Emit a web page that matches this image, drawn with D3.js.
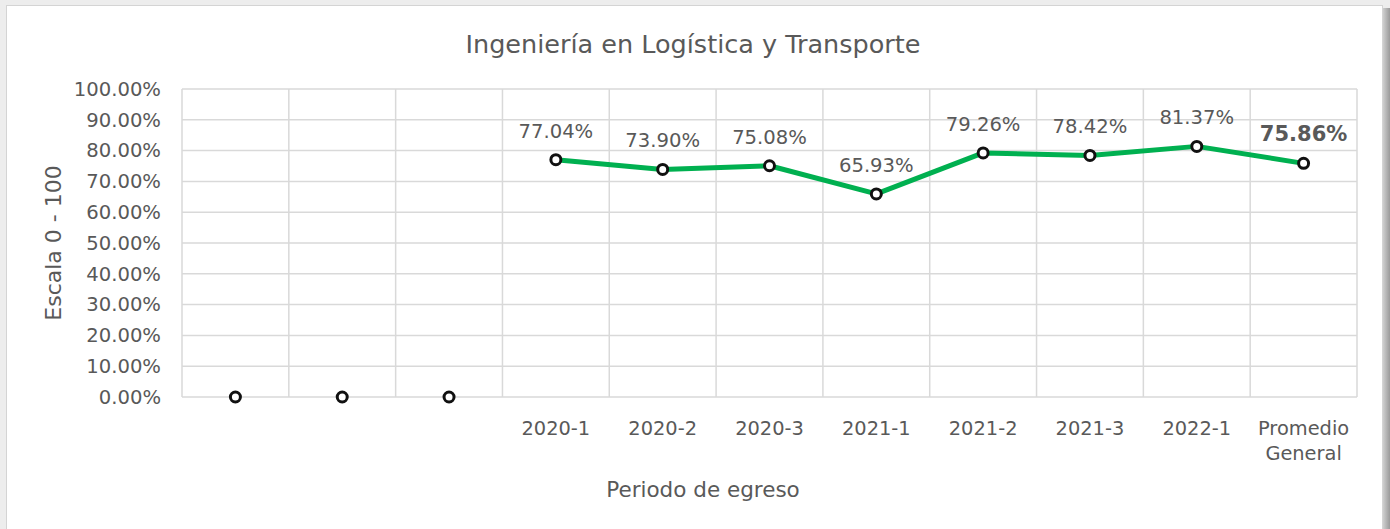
<!DOCTYPE html>
<html>
<head>
<meta charset="utf-8">
<script src="https://cdn.jsdelivr.net/npm/d3@7"></script>
<style>
  html, body { margin: 0; padding: 0; background: #ededed; }
  svg { display: block; }
  text { font-family: "DejaVu Sans", Verdana, sans-serif; fill: #595959; }
</style>
</head>
<body>
<div id="chart-container"></div>
<script>
// data
const categories = ['', '', '', '2020-1', '2020-2', '2020-3', '2021-1', '2021-2', '2021-3', '2022-1', 'Promedio General'];
const values = [0, 0, 0, 77.04, 73.90, 75.08, 65.93, 79.26, 78.42, 81.37, 75.86];
const hasLabel = [false, false, false, true, true, true, true, true, true, true, true];
const yTicks = [0, 10, 20, 30, 40, 50, 60, 70, 80, 90, 100];

const width = 1390;
const height = 529;
const margin = { top: 89, right: 33, bottom: 132, left: 182 };
const contentWidth = width - margin.left - margin.right;
const contentHeight = height - margin.top - margin.bottom;

const svg = d3.select('#chart-container')
  .append('svg')
  .attr('width', width)
  .attr('height', height);

// frame + shadow
const defs = svg.append('defs');
const grad = defs.append('linearGradient').attr('id', 'shadow').attr('x1', 0).attr('x2', 1);
grad.append('stop').attr('offset', '0%').attr('stop-color', '#cfcfcf');
grad.append('stop').attr('offset', '100%').attr('stop-color', '#9a9a9a');
svg.append('rect').attr('x', 1383).attr('y', 8).attr('width', 7).attr('height', height - 8).attr('fill', 'url(#shadow)');
svg.append('rect')
  .attr('x', 6.5).attr('y', 5.5)
  .attr('width', 1376).attr('height', height)
  .attr('fill', 'white')
  .attr('stroke', '#d4d4d4');

const g = svg.append('g')
  .attr('transform', `translate(${margin.left}, ${margin.top})`);

const xBand = d3.scaleBand().domain(d3.range(categories.length)).range([0, contentWidth]);
const yScale = d3.scaleLinear([0, 100], [contentHeight, 0]);

// horizontal gridlines
g.selectAll('.hgrid')
  .data(yTicks)
  .enter().append('line')
  .attr('class', 'hgrid')
  .attr('x1', 0).attr('x2', contentWidth)
  .attr('y1', d => yScale(d)).attr('y2', d => yScale(d))
  .attr('stroke', '#d9d9d9').attr('stroke-width', 1.5);

// vertical gridlines at category boundaries
g.selectAll('.vgrid')
  .data(d3.range(categories.length + 1))
  .enter().append('line')
  .attr('class', 'vgrid')
  .attr('x1', i => i === categories.length ? contentWidth : xBand(i))
  .attr('x2', i => i === categories.length ? contentWidth : xBand(i))
  .attr('y1', 0).attr('y2', contentHeight)
  .attr('stroke', '#d9d9d9').attr('stroke-width', 1.5);

// y axis
const yAxis = d3.axisLeft(yScale).tickValues(yTicks).tickSize(0).tickPadding(21)
  .tickFormat(d => d.toFixed(2) + '%');
const gY = g.append('g').call(yAxis);
gY.select('.domain').remove();
gY.selectAll('text').style('font-size', '19.6px').attr('fill', '#595959').style('font-family', '"DejaVu Sans", sans-serif');

// x labels
const xLabels = g.selectAll('.xlabel')
  .data(categories)
  .enter().append('text')
  .attr('class', 'xlabel')
  .attr('text-anchor', 'middle')
  .attr('x', (d, i) => xBand(i) + xBand.bandwidth() / 2)
  .attr('y', contentHeight + 38)
  .style('font-size', '19.4px');
xLabels.each(function(d) {
  const words = d === 'Promedio General' ? ['Promedio', 'General'] : [d];
  d3.select(this).selectAll('tspan')
    .data(words)
    .enter().append('tspan')
    .attr('x', d3.select(this).attr('x'))
    .attr('dy', (w, j) => j === 0 ? 0 : 25)
    .text(w => w);
});

// line
const line = d3.line()
  .defined((d, i) => hasLabel[i])
  .x((d, i) => xBand(i) + xBand.bandwidth() / 2)
  .y(d => yScale(d));

g.append('path')
  .datum(values)
  .attr('fill', 'none')
  .attr('stroke', '#00b050')
  .attr('stroke-width', 5)
  .attr('stroke-linejoin', 'round')
  .attr('d', line);

// markers
g.selectAll('.marker')
  .data(values)
  .enter().append('circle')
  .attr('class', 'marker')
  .attr('cx', (d, i) => xBand(i) + xBand.bandwidth() / 2)
  .attr('cy', d => yScale(d))
  .attr('r', 5)
  .attr('fill', 'white')
  .attr('stroke', '#111')
  .attr('stroke-width', 3);

// data labels
g.selectAll('.dlabel')
  .data(values.map((v, i) => ({ v, i })).filter(d => hasLabel[d.i]))
  .enter().append('text')
  .attr('class', 'dlabel')
  .attr('text-anchor', 'middle')
  .attr('x', d => xBand(d.i) + xBand.bandwidth() / 2)
  .attr('y', d => yScale(d.v) - 22)
  .style('font-size', d => d.i === values.length - 1 ? '21px' : '19.6px')
  .style('font-weight', d => d.i === values.length - 1 ? 'bold' : 'normal')
  .text(d => d.v.toFixed(2) + '%');

// titles
svg.append('text')
  .attr('x', 693).attr('y', 53)
  .attr('text-anchor', 'middle')
  .style('font-size', '25.5px')
  .text('Ingeniería en Logística y Transporte');

svg.append('text')
  .attr('x', 703).attr('y', 497)
  .attr('text-anchor', 'middle')
  .style('font-size', '21.5px')
  .text('Periodo de egreso');

svg.append('text')
  .attr('transform', `translate(61, ${margin.top + contentHeight / 2}) rotate(-90)`)
  .attr('text-anchor', 'middle')
  .style('font-size', '22px')
  .text('Escala 0 - 100');
</script>
</body>
</html>
